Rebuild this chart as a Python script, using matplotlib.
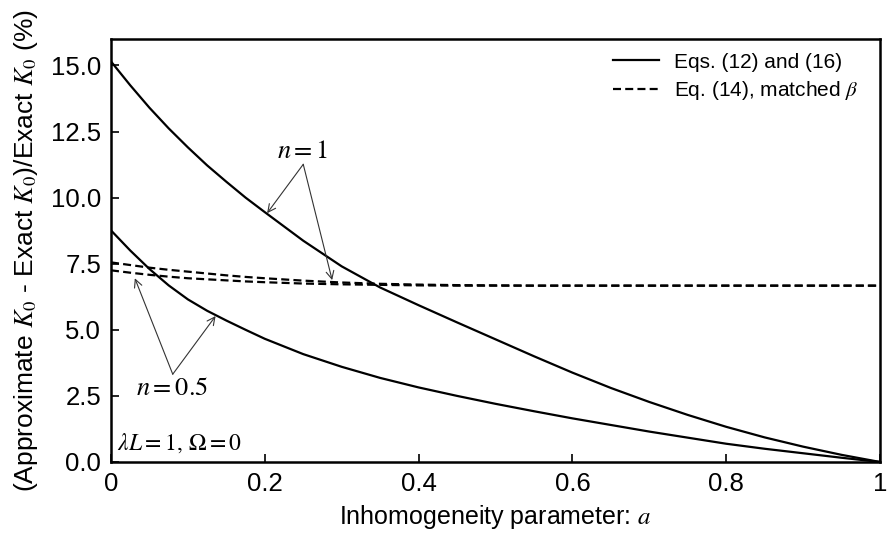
import numpy as np
import matplotlib
matplotlib.use("Agg")
import matplotlib.pyplot as plt

plt.rcParams.update({'font.family': 'Liberation Sans', 'mathtext.fontset': 'stix'})

# inhomogeneity parameter a
a = [0.0, 0.025, 0.05, 0.075, 0.1, 0.125, 0.15, 0.175, 0.2, 0.25, 0.3, 0.35, 0.4,
     0.45, 0.5, 0.55, 0.6, 0.65, 0.7, 0.75, 0.8, 0.85, 0.9, 0.95, 1.0]

# Eqs. (12) and (16)
solid_n1 = [15.15, 14.25, 13.4, 12.62, 11.9, 11.22, 10.6, 10.0, 9.45, 8.37, 7.4, 6.6, 5.93,
            5.28, 4.64, 4.0, 3.38, 2.8, 2.27, 1.78, 1.33, 0.93, 0.58, 0.27, 0.0]
solid_n05 = [8.76, 8.0, 7.3, 6.68, 6.15, 5.72, 5.35, 5.0, 4.66, 4.08, 3.6, 3.18, 2.82,
             2.5, 2.2, 1.92, 1.65, 1.4, 1.15, 0.92, 0.69, 0.5, 0.33, 0.16, 0.0]
# Eq. (14), matched beta
dash_n1 = [7.55, 7.45, 7.35, 7.27, 7.2, 7.13, 7.06, 7.0, 6.95, 6.86, 6.79, 6.74, 6.71,
           6.69, 6.68, 6.67, 6.67, 6.67, 6.67, 6.67, 6.67, 6.67, 6.67, 6.67, 6.67]
dash_n05 = [7.25, 7.16, 7.08, 7.01, 6.95, 6.91, 6.87, 6.83, 6.8, 6.75, 6.72, 6.7, 6.68,
            6.67, 6.67, 6.67, 6.67, 6.67, 6.67, 6.67, 6.67, 6.67, 6.67, 6.67, 6.67]

xticks = [0, 0.2, 0.4, 0.6, 0.8, 1]
xticklabels = ["0", "0.2", "0.4", "0.6", "0.8", "1"]
yticks = [0, 2.5, 5, 7.5, 10, 12.5, 15]

fig = plt.figure(figsize=(8.88, 5.38), dpi=100)
ax = fig.add_axes([0.125, 0.1413, 0.866, 0.7862])

dash = (0, (3.6, 1.9))
ax.plot(a, solid_n1, color="black", lw=1.6, label="Eqs. (12) and (16)")
ax.plot(a, solid_n05, color="black", lw=1.6)
ax.plot(a, dash_n1, color="black", lw=1.6, ls=dash, label=r"Eq. (14), matched $\beta$")
ax.plot(a, dash_n05, color="black", lw=1.6, ls=dash)

ax.set_xlim(0, 1)
ax.set_ylim(0, 16)
ax.set_xticks(xticks)
ax.set_xticklabels(xticklabels)
ax.set_yticks(yticks)
ax.set_yticklabels(["%.1f" % v for v in yticks])
ax.tick_params(direction="in", length=6, width=1.2, labelsize=18.5, pad=7)
for s in ax.spines.values():
    s.set_linewidth(1.8)

ax.set_xlabel("Inhomogeneity parameter: $a$", fontsize=18, labelpad=5)
ax.set_ylabel(r"(Approximate $K_0$ - Exact $K_0$)/Exact $K_0$ (%)", fontsize=19, labelpad=8)

ax.legend(loc="upper left", bbox_to_anchor=(0.653, 0.968), frameon=False, fontsize=15,
          handlelength=2.2, handletextpad=0.7, borderpad=0, borderaxespad=0,
          labelspacing=0.35)

arrow = dict(arrowstyle="->", color="#333333", lw=0.8, shrinkA=0, shrinkB=0,
             mutation_scale=14)
ax.text(0.249, 11.3, "$n = 1$", fontsize=19, ha="center", va="bottom")
ax.annotate("", xy=(0.203, 9.41), xytext=(0.25, 11.26), arrowprops=arrow)
ax.annotate("", xy=(0.2876, 6.88), xytext=(0.25, 11.26), arrowprops=arrow)
ax.text(0.079, 3.25, "$n = 0.5$", fontsize=19, ha="center", va="top")
ax.annotate("", xy=(0.031, 6.95), xytext=(0.0803, 3.32), arrowprops=arrow)
ax.annotate("", xy=(0.136, 5.52), xytext=(0.0803, 3.32), arrowprops=arrow)

ax.text(0.008, 0.25, r"$\lambda L = 1,\, \Omega = 0$", fontsize=17, ha="left", va="bottom")

fig.savefig("out.png", dpi=100)
